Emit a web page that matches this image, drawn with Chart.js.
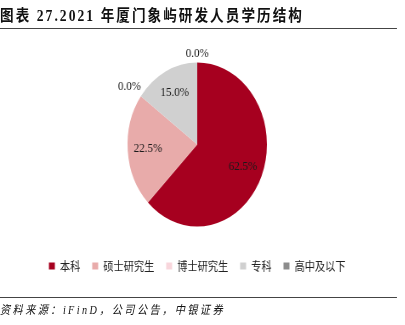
<!DOCTYPE html>
<html lang="zh">
<head>
  <meta charset="UTF-8" />
  <title>2021年厦门象屿研发人员学历结构</title>
  <script src="https://cdn.jsdelivr.net/npm/chart.js"></script>
  <style>
    * { box-sizing: border-box; }
    html, body { margin: 0; padding: 0; background: #fff; overflow: hidden; }
    body { width: 405px; height: 325px; }
    .wrap {
      width: 476px;
      transform: scaleX(0.85);
      transform-origin: 0 0;
    }
    .title {
      height: 29px;
      padding: 7px 0 0 0;
      font-family: "Liberation Serif", "Noto Sans CJK SC", serif;
      font-weight: bold;
      font-size: 16px;
      line-height: 18px;
      letter-spacing: 2.4px;
      color: #111;
      border-bottom: 1.5px solid #444;
      width: 467px;
      white-space: nowrap;
    }
    .chart { width: 476px; height: 268px; }
    .source {
      width: 467px;
      border-top: 1.5px solid #444;
      padding-top: 2px;
      font-family: "Liberation Serif", "Noto Sans CJK SC", serif;
      font-style: italic;
      font-size: 12px;
      letter-spacing: 2.8px;
      color: #111;
      white-space: nowrap;
    }
  </style>
</head>
<body>
  <div class="wrap">
    <div class="title">图表 27.2021 年厦门象屿研发人员学历结构</div>
    <div class="chart"><canvas id="pie" width="476" height="268"></canvas></div>
    <div class="source">资料来源：iFinD，公司公告，中银证券</div>
  </div>
  <script>
    const categories = ['本科', '硕士研究生', '博士研究生', '专科', '高中及以下'];
    const shares = [62.5, 22.5, 0.0, 15.0, 0.0];
    const colors = ['#a6001f', '#e8abaa', '#f8d6dc', '#d0d0d0', '#8c8c8c'];

    // percentage labels: inside for real slices, outside for empty ones
    const sliceLabels = {
      id: 'sliceLabels',
      afterDatasetsDraw(chart) {
        const ctx = chart.ctx;
        const meta = chart.getDatasetMeta(0);
        ctx.save();
        ctx.font = '13px "Liberation Serif", serif';
        ctx.fillStyle = '#1a1a1a';
        ctx.textAlign = 'center';
        ctx.textBaseline = 'middle';
        meta.data.forEach((arc, i) => {
          const v = shares[i];
          const mid = (arc.startAngle + arc.endAngle) / 2;
          const f = v > 0 ? 0.71 : (i === 2 ? 1.2 : 1.11);
          const x = arc.x + Math.cos(mid) * arc.outerRadius * f;
          const y = arc.y + Math.sin(mid) * arc.outerRadius * f;
          ctx.fillText(v.toFixed(1) + '%', x, y);
        });
        ctx.restore();
      }
    };

    new Chart(document.getElementById('pie'), {
      type: 'pie',
      data: {
        labels: categories,
        datasets: [{
          data: shares,
          backgroundColor: colors,
          borderWidth: 0,
          radius: 82
        }]
      },
      options: {
        responsive: false,
        animation: false,
        layout: { padding: { top: 14, bottom: 15, left: 0, right: 12 } },
        plugins: {
          legend: {
            position: 'bottom',
            labels: {
              boxWidth: 7,
              boxHeight: 7,
              padding: 14,
              color: '#222',
              font: { family: '"Noto Sans CJK SC", sans-serif', size: 12 }
            }
          },
          tooltip: { enabled: false }
        }
      },
      plugins: [sliceLabels]
    });
  </script>
</body>
</html>
